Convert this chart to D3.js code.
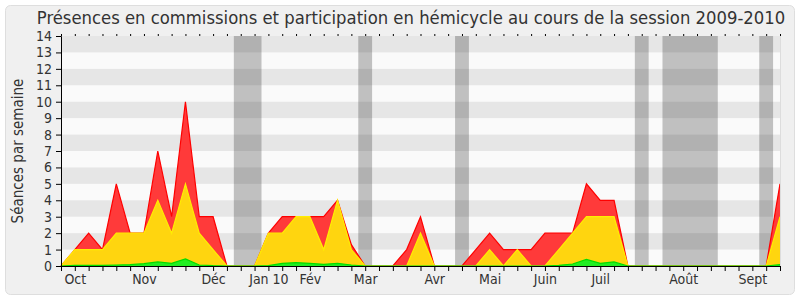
<!DOCTYPE html>
<html lang="fr">
<head>
<meta charset="utf-8">
<script src="https://d3js.org/d3.v7.min.js"></script>
<style>
  body { margin: 0; background: #fff; }
  svg text { font-family: "DejaVu Sans Condensed", "DejaVu Sans", sans-serif; font-stretch: condensed; fill: #333; }
</style>
</head>
<body>
<div id="chart"></div>
<script>
// weekly values, session 2009-2010 (week 0 = end of Sept)
var presences = [0,1,2,1,5,2,2,7,3,10,3,3,0,0,0,2,3,3,3,3,4,1.3,0,0,0,1,3,0,0,0,1,2,1,1,1,2,2,2,5,4,4,0,0,0,0,0,0,0,0,0,0,0,5];
var hemicycle = [0,1,1,1,2,2,2,4,2,5,2,1,0,0,0,2,2,3,3,1,4,1,0,0,0,0,2,0,0,0,0,1,0,1,0,0,1,2,3,3,3,0,0,0,0,0,0,0,0,0,0,0,3];
var interventions = [0,0.04,0.04,0.04,0.06,0.08,0.14,0.25,0.16,0.43,0.06,0.02,0,0,0,0.02,0.16,0.2,0.16,0.1,0.16,0.06,0,0,0,0,0,0,0,0,0,0,0,0,0,0,0.04,0.12,0.4,0.16,0.25,0,0,0,0,0,0,0,0,0,0,0,0.08];
var monthWeeks = [1,6,11,15,18,22,27,31,35,39,45,50];
var monthLabels = ["Oct","Nov","Déc","Jan 10","Fév","Mar","Avr","Mai","Juin","Juil","Août","Sept"];
var vacances = [[12.5,14.5],[21.5,22.5],[28.5,29.5],[41.5,42.5],[43.5,47.5],[50.5,51.5]];
var yTicks = d3.range(0, 15);

var width = 800, height = 300;
var plotLeft = 61, plotRight = 780, plotTop = 36, plotBottom = 266;

var svg = d3.select("#chart").append("svg")
    .attr("width", width)
    .attr("height", height);

svg.append("rect")
    .attr("x", 5.5).attr("y", 5.5)
    .attr("width", 789).attr("height", 289)
    .attr("rx", 5)
    .attr("fill", "#f0f0f0")
    .attr("stroke", "#dedede");

var x = d3.scaleLinear().domain([0, 52]).range([plotLeft, plotRight]);
var y = d3.scaleLinear().domain([0, 14]).range([plotBottom, plotTop]);

// plot background
svg.append("rect")
    .attr("x", plotLeft).attr("y", plotTop)
    .attr("width", plotRight - plotLeft).attr("height", plotBottom - plotTop)
    .attr("fill", "#fafafa");

// holidays
svg.selectAll(".vac")
    .data(vacances)
    .enter().append("rect")
    .attr("x", function(d) { return x(d[0]); })
    .attr("y", plotTop)
    .attr("width", function(d) { return x(d[1]) - x(d[0]); })
    .attr("height", plotBottom - plotTop)
    .attr("fill", "#c0c0c0");

// grey stripes
svg.selectAll(".stripe")
    .data(yTicks.filter(function(v) { return v % 2 == 1; }))
    .enter().append("rect")
    .attr("x", plotLeft)
    .attr("y", function(d) { return y(d + 1); })
    .attr("width", plotRight - plotLeft)
    .attr("height", function(d) { return y(d) - y(d + 1); })
    .attr("fill", "rgba(0,0,0,0.08)");

var series = [
    {values: presences, fill: "#ff3a3a", stroke: "#ff0000"},
    {values: hemicycle, fill: "#ffd50f", stroke: "#ffee00"},
    {values: interventions, fill: "#22ee22", stroke: "#00dd00"}
];

var area = d3.area()
    .x(function(d, i) { return x(i); })
    .y0(y(0))
    .y1(function(d) { return y(d); });
var line = d3.line()
    .x(function(d, i) { return x(i); })
    .y(function(d) { return y(d); });

series.forEach(function(s) {
    svg.append("path")
        .attr("d", area(s.values))
        .attr("fill", s.fill);
    svg.append("path")
        .attr("d", line(s.values))
        .attr("fill", "none")
        .attr("stroke", s.stroke)
        .attr("stroke-width", 1.2);
});

// axes
var weeks = d3.range(0, 53);
var xAxis = d3.axisBottom(x)
    .tickValues(weeks)
    .tickSize(5)
    .tickPadding(3)
    .tickFormat(function(d) {
        var k = monthWeeks.indexOf(d);
        return k >= 0 ? monthLabels[k] : "";
    });
var gx = svg.append("g")
    .attr("transform", "translate(0," + plotBottom + ")")
    .call(xAxis);
gx.select(".domain").attr("stroke", "#000");
gx.selectAll("text").style("font-size", "14px").attr("fill", "#333");

var topAxis = d3.axisTop(x)
    .tickValues(weeks)
    .tickSize(2)
    .tickFormat("");
var gt = svg.append("g")
    .attr("transform", "translate(0," + plotTop + ")")
    .call(topAxis);
gt.select(".domain").remove();

var yAxis = d3.axisLeft(y)
    .tickValues(yTicks)
    .tickSize(5)
    .tickPadding(4);
var gy = svg.append("g")
    .attr("transform", "translate(" + plotLeft + ",0)")
    .call(yAxis);
gy.selectAll("text").style("font-size", "14px").attr("fill", "#333");

svg.append("line")
    .attr("x1", plotRight + 0.5).attr("x2", plotRight + 0.5)
    .attr("y1", plotTop).attr("y2", plotBottom)
    .attr("stroke", "#ddd");

svg.append("text")
    .attr("x", 411)
    .attr("y", 24)
    .attr("text-anchor", "middle")
    .style("font-size", "18.3px")
    .text("Présences en commissions et participation en hémicycle au cours de la session 2009-2010");

svg.append("text")
    .attr("transform", "translate(23,151) rotate(-90)")
    .attr("text-anchor", "middle")
    .style("font-size", "15px")
    .text("Séances par semaine");
</script>
</body>
</html>
